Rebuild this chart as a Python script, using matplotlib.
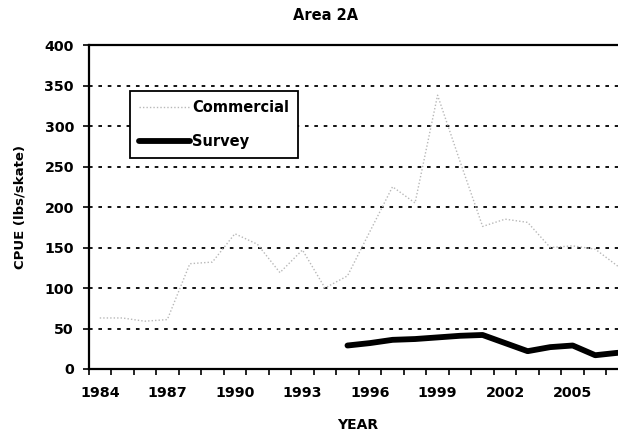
import matplotlib
matplotlib.use("Agg")
import matplotlib.pyplot as plt
from matplotlib.ticker import FixedLocator, NullFormatter

# ---- data ----
years = list(range(1984, 2008))
commercial = [63, 63, 59, 61, 130, 132, 167, 154, 119, 147, 100, 115,
              170, 225, 205, 338, 256, 176, 185, 181, 150, 152, 148, 127]
survey_years = list(range(1995, 2008))
survey = [29, 32, 36, 37, 39, 41, 42, 32, 22, 27, 29, 17, 20]
label_years = [1984, 1987, 1990, 1993, 1996, 1999, 2002, 2005]
yticks = [0, 50, 100, 150, 200, 250, 300, 350, 400]

W, H = 618, 438
fig = plt.figure(figsize=(W / 100, H / 100), dpi=100)
fig.patch.set_facecolor("white")

left_px, right_px, top_px, bot_px = 88.5, 629, 45, 369
ax = fig.add_axes([left_px / W, (H - bot_px) / H,
                   (right_px - left_px) / W, (bot_px - top_px) / H])
ax.set_facecolor("white")

FONT = "DejaVu Sans"

# gridlines
for v in yticks[1:-1]:
    ax.axhline(v, color="black", lw=1.3, linestyle=(0, (2, 3.2)), zorder=1)

ax.plot(years, commercial, color="#b8b8b8", lw=1.0, linestyle=(0, (1, 1.5)),
        label="Commercial", zorder=2)
ax.plot(survey_years, survey, color="black", lw=4.2, solid_capstyle="round",
        solid_joinstyle="round", label="Survey", zorder=3)

ax.set_xlim(1983.5, 2007.5)
ax.set_ylim(0, 400)

# spines
for s in ["left", "bottom", "top"]:
    ax.spines[s].set_color("black")
    ax.spines[s].set_linewidth(1.6)
ax.spines["right"].set_visible(False)

# y ticks
ax.set_yticks(yticks)
ax.set_yticklabels([str(v) for v in yticks], fontfamily=FONT,
                   fontweight="bold", fontsize=10.3)
ax.tick_params(axis="y", direction="out", length=4, width=1.2, pad=6.5,
               colors="black")

# x ticks: boundaries as major ticks, labels at category centres (minor)
bounds = [y - 0.5 for y in years] + [years[-1] + 0.5]
ax.xaxis.set_major_locator(FixedLocator(bounds))
ax.xaxis.set_major_formatter(NullFormatter())
ax.xaxis.set_minor_locator(FixedLocator(label_years))
ax.set_xticklabels([str(y) for y in label_years], minor=True,
                   fontfamily=FONT, fontweight="bold", fontsize=10.3)
ax.tick_params(axis="x", which="major", direction="out", length=4,
               width=1.2, colors="black")
ax.tick_params(axis="x", which="minor", length=0, pad=12)

# legend
leg = ax.legend(loc="upper left",
                bbox_to_anchor=((130 - left_px) / (right_px - left_px),
                                (bot_px - 91) / (bot_px - top_px)),
                frameon=True, fancybox=False, shadow=False, framealpha=1.0,
                prop={"family": FONT, "weight": "bold", "size": 10.5},
                handlelength=3.5, handletextpad=0.15, labelspacing=1.35,
                borderpad=0.6, borderaxespad=0.0)
leg.get_frame().set_edgecolor("black")
leg.get_frame().set_linewidth(1.3)
for t in leg.get_texts():
    t.set_color("black")

# titles / labels
fig.text(326 / W, 1 - 15 / H, "Area 2A", ha="center", va="center",
         fontfamily=FONT, fontweight="bold", fontsize=10.5)
fig.text(20 / W, 1 - 207 / H, "CPUE (lbs/skate)", ha="center", va="center",
         rotation=90, fontfamily=FONT, fontweight="bold", fontsize=9.5)
fig.text(358 / W, 1 - 425 / H, "YEAR", ha="center", va="center",
         fontfamily=FONT, fontweight="bold", fontsize=10)

fig.savefig("out.png", dpi=100, facecolor="white")
